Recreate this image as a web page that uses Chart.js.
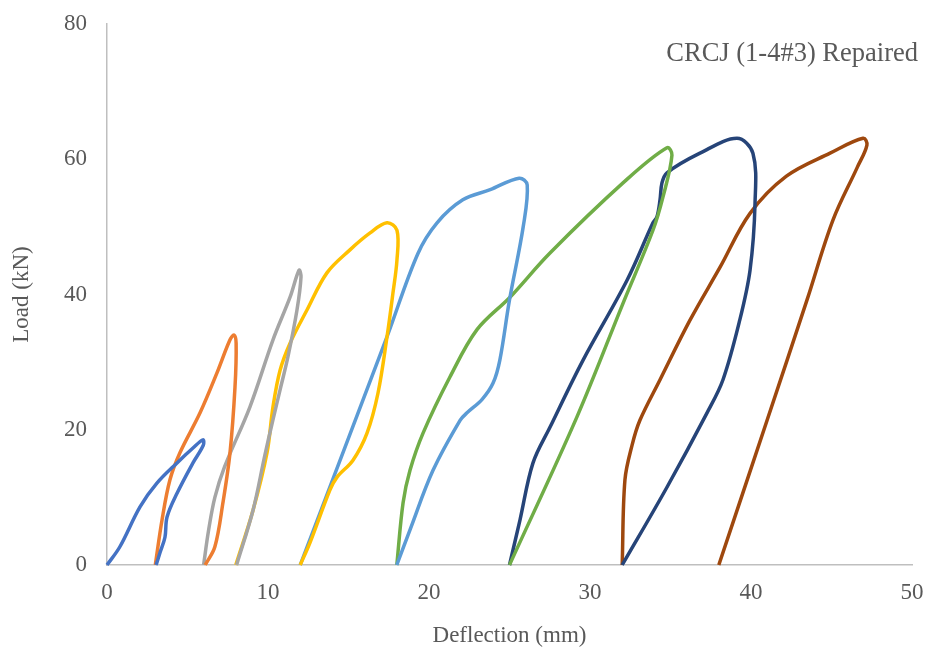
<!DOCTYPE html>
<html>
<head>
<meta charset="utf-8">
<title>CRCJ (1-4#3) Repaired</title>
<script src="https://cdn.jsdelivr.net/npm/chart.js@4/dist/chart.umd.min.js"></script>
<style>
  html, body { margin: 0; padding: 0; background: #fff; }
</style>
</head>
<body>
<canvas id="chart" width="931" height="652"></canvas>
<script>
// load cycles (deflection in mm, load in kN)
const cycle1X = [0, 0.8, 2.05, 3.1, 4.35, 5.34, 5.96, 5.98, 5.34, 4.35, 3.73, 3.6, 3.29, 3.05];
const cycle1Y = [0, 2.7, 8.6, 12.1, 15.1, 17.3, 18.5, 17.7, 15.1, 10.6, 7.1, 4.1, 1.8, 0];

const cycle2X = [3, 3.42, 3.91, 4.53, 5.78, 6.83, 7.64, 7.89, 8.02, 7.95, 7.64, 7.2, 6.7, 6.1];
const cycle2Y = [0, 6.7, 12.6, 16.6, 22.5, 28.4, 33.3, 34.0, 32.8, 26.3, 16.6, 9.2, 2.7, 0];

const cycle3X = [6, 6.3, 6.7, 7.3, 8.88, 10.31, 11.37, 11.93, 12.05, 11.8, 11.24, 10.75, 10.3, 9.81, 9.07, 8.05];
const cycle3Y = [0, 5.0, 10.0, 14.5, 23.4, 33.3, 39.6, 43.6, 42.6, 37.7, 30.8, 25.9, 21.4, 16.3, 8.1, 0];

const cycle4X = [8, 9.07, 9.94, 10.31, 10.75, 11.37, 12.42, 13.66, 15.09, 16.34, 17.39, 18.01, 18.01, 17.76, 17.39, 16.83, 16.15, 15.28, 14.29, 13.85, 12.61, 12];
const cycle4Y = [0, 8.1, 16.6, 23.4, 28.8, 32.8, 37.7, 43.2, 46.6, 49.1, 50.6, 49.5, 45.1, 40.2, 33.7, 25.4, 19.5, 15.5, 13.0, 11.1, 3.3, 0];

const cycle5X = [12, 17.4, 19.3, 20.5, 22.1, 23.8, 25.6, 26.1, 25.85, 25.0, 24.4, 23.98, 23.3, 22.36, 21.93, 20.25, 18.82, 18];
const cycle5Y = [0, 33.8, 46.0, 50.6, 54.0, 55.5, 57.2, 56.2, 50.0, 39.2, 30.3, 26.9, 24.5, 22.5, 21.4, 14.0, 5.2, 0];

const cycle6X = [18, 18.39, 18.82, 19.63, 21.3, 22.98, 25.03, 27.5, 32.05, 34.78, 35.09, 34.53, 33.91, 32.05, 29.19, 25];
const cycle6Y = [0, 9.2, 14.0, 19.5, 27.8, 34.8, 39.6, 46.1, 56.5, 61.7, 60.6, 54.4, 49.5, 38.7, 21.9, 0];

const cycle7X = [25, 25.65, 26.46, 27.52, 29.57, 32.3, 33.91, 34.16, 34.35, 34.47, 34.78, 36.83, 39.13, 40.12, 40.25, 39.94, 39.3, 38.26, 37.27, 34.78, 32];
const cycle7Y = [0, 6.65, 15.1, 20.4, 30.3, 42.1, 50.6, 51.5, 54.0, 56.5, 58.0, 60.9, 63.1, 60.9, 53.5, 43.6, 36.2, 27.4, 22.5, 11.5, 0];

const cycle8X = [32, 32.17, 32.61, 33.1, 34.35, 36.21, 38.07, 39.94, 42.2, 44.91, 46.96, 47.2, 46.6, 45.09, 43.48, 41.0, 38];
const cycle8Y = [0, 12.6, 17.7, 21.4, 27.4, 36.2, 44.0, 52.0, 57.5, 60.9, 63.1, 62.1, 58.8, 51.0, 39.2, 21.4, 0];

const xTicks = [0, 10, 20, 30, 40, 50];
const yTicks = [0, 20, 40, 60, 80];

const cycleColors = ['#4472C4', '#ED7D31', '#A5A5A5', '#FFC000', '#5B9BD5', '#70AD47', '#264478', '#9E480E'];
const cycles = [
  [cycle1X, cycle1Y], [cycle2X, cycle2Y], [cycle3X, cycle3Y], [cycle4X, cycle4Y],
  [cycle5X, cycle5Y], [cycle6X, cycle6Y], [cycle7X, cycle7Y], [cycle8X, cycle8Y]
];

const textGray = '#595959';
const serif = "'Liberation Serif', 'Times New Roman', serif";

// the label in the top right corner
const cornerLabel = {
  id: 'cornerLabel',
  afterDraw(chart) {
    const ctx = chart.ctx;
    ctx.save();
    ctx.font = '26.5px ' + serif;
    ctx.fillStyle = textGray;
    ctx.textAlign = 'right';
    ctx.textBaseline = 'middle';
    ctx.fillText('CRCJ (1-4#3) Repaired', 918, 54);
    ctx.restore();
  }
};

const datasets = cycles.map((c, i) => ({
  label: 'Cycle ' + (i + 1),
  data: c[0].map((x, j) => ({ x: x, y: c[1][j] })),
  showLine: true,
  borderColor: cycleColors[i],
  backgroundColor: cycleColors[i],
  borderWidth: 3.5,
  pointRadius: 0,
  tension: 0.35,
  clip: false
}));

// keep the plot box fixed; tick label overhang should not shrink it
function noPad(s) {
  s.paddingTop = 0; s.paddingBottom = 0; s.paddingLeft = 0; s.paddingRight = 0;
}

new Chart(document.getElementById('chart'), {
  type: 'scatter',
  data: { datasets: datasets },
  options: {
    responsive: false,
    animation: false,
    devicePixelRatio: 1,
    layout: { padding: { top: 24, right: 19, bottom: 0, left: 0 } },
    plugins: {
      legend: { display: false },
      tooltip: { enabled: false }
    },
    scales: {
      x: {
        type: 'linear',
        min: 0,
        max: 50,
        afterBuildTicks: s => { s.ticks = xTicks.map(v => ({ value: v })); },
        afterFit: s => { s.height = 87; noPad(s); },
        grid: { color: 'rgba(0,0,0,0)', drawTicks: false },
        border: { display: true, color: '#BFBFBF', width: 1.5 },
        ticks: { color: textGray, font: { family: serif, size: 23 }, padding: 14 },
        title: {
          display: true,
          text: 'Deflection (mm)',
          color: textGray,
          font: { family: serif, size: 23 },
          padding: { top: 0, bottom: 2 }
        }
      },
      y: {
        min: 0,
        max: 80,
        afterBuildTicks: s => { s.ticks = yTicks.map(v => ({ value: v })); },
        afterFit: s => { s.width = 107; noPad(s); },
        grid: { color: 'rgba(0,0,0,0)', drawTicks: false },
        border: { display: true, color: '#BFBFBF', width: 1.5 },
        ticks: { color: textGray, font: { family: serif, size: 23 }, padding: 20 },
        title: {
          display: true,
          text: 'Load (kN)',
          color: textGray,
          font: { family: serif, size: 23 },
          padding: { top: 8, bottom: 0 }
        }
      }
    }
  },
  plugins: [cornerLabel]
});
</script>
</body>
</html>
